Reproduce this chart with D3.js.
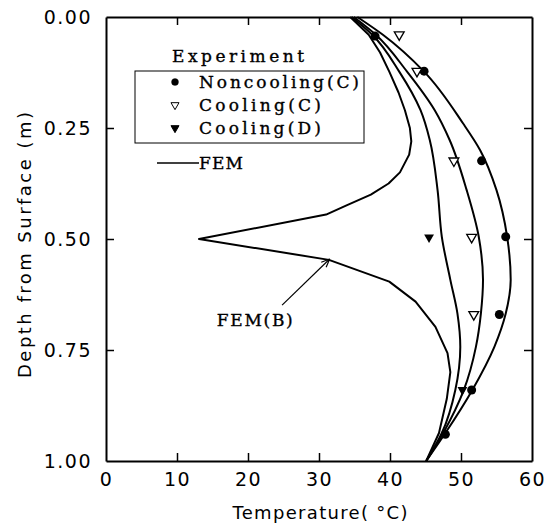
<!DOCTYPE html>
<html>
<head>
<meta charset="utf-8">
<script src="https://cdn.jsdelivr.net/npm/d3@7"></script>
<style>
  body { margin: 0; background: #fff; }
  svg { display: block; }
</style>
</head>
<body>
<div id="chart"></div>
<script>
// FEM curves: [depth (m), temperature (C)]
const femB = [
  [0, 34.4], [0.04, 37.0], [0.08, 38.6], [0.123, 39.9], [0.17, 41.2], [0.21, 42.1],
  [0.25, 42.8], [0.28, 43.0], [0.31, 42.7], [0.35, 41.4], [0.375, 39.8], [0.40, 37.3],
  [0.425, 33.8], [0.445, 31.0], [0.5, 13.1],
  [0.547, 31.4], [0.596, 39.9], [0.641, 43.6], [0.698, 46.4], [0.757, 48.1],
  [0.80, 48.5], [0.86, 48.0], [0.937, 46.9], [1.0, 45.1]
];
const femD = [
  [0, 34.6], [0.04, 37.5], [0.123, 41.3], [0.21, 44.3], [0.277, 45.6], [0.39, 46.7],
  [0.495, 47.3], [0.592, 48.5], [0.668, 49.5], [0.743, 49.9], [0.84, 49.2],
  [0.937, 47.3], [1.0, 45.1]
];
const femC = [
  [0, 34.9], [0.04, 38.0], [0.123, 42.4], [0.21, 46.3], [0.277, 48.4], [0.39, 50.8],
  [0.495, 52.5], [0.592, 53.1], [0.668, 52.8], [0.743, 52.1], [0.84, 50.4],
  [0.937, 47.5], [1.0, 45.1]
];
const femN = [
  [0, 35.4], [0.04, 39.0], [0.123, 44.8], [0.24, 50.3], [0.30, 52.7], [0.39, 55.0],
  [0.495, 56.5], [0.592, 57.0], [0.668, 56.3], [0.743, 54.7], [0.84, 51.6],
  [0.937, 47.8], [1.0, 45.1]
];

// Experiment points: [depth, temperature]
const noncoolingC = [[0.043, 37.9], [0.122, 44.8], [0.324, 52.9], [0.495, 56.3], [0.67, 55.4], [0.84, 51.5], [0.94, 47.8]];
const coolingC = [[0.04, 41.3], [0.122, 43.8], [0.324, 49.0], [0.496, 51.5], [0.67, 51.8]];
const coolingD = [[0.496, 45.5], [0.84, 50.2]];

const xTicks = [0, 10, 20, 30, 40, 50, 60];
const yTicks = [0, 0.25, 0.5, 0.75, 1.0];

const width = 558, height = 523;
const x = d3.scaleLinear().domain([0, 60]).range([106, 532]);
const y = d3.scaleLinear().domain([0, 1]).range([17, 461]);

const svg = d3.select("#chart").append("svg")
  .attr("width", width)
  .attr("height", height);

const tickFont = "'DejaVu Sans', sans-serif";
const serif = "'DejaVu Serif', serif";

// curves
const smooth = d3.line().x(d => x(d[1])).y(d => y(d[0])).curve(d3.curveMonotoneY);
const straight = d3.line().x(d => x(d[1])).y(d => y(d[0]));

[femD, femC, femN].forEach(c => {
  svg.append("path").datum(c)
    .attr("d", smooth)
    .attr("fill", "none")
    .attr("stroke", "#000")
    .attr("stroke-width", 2);
});
svg.append("path").datum(femB)
  .attr("d", straight)
  .attr("fill", "none")
  .attr("stroke", "#000")
  .attr("stroke-width", 2)
  .attr("stroke-linejoin", "round");

// markers
const triDown = d3.symbol().type(d3.symbolTriangle).size(42);
svg.append("g").selectAll("circle")
  .data(noncoolingC).join("circle")
  .attr("cx", d => x(d[1])).attr("cy", d => y(d[0]))
  .attr("r", 4.5).attr("fill", "#000");

svg.append("g").selectAll("path")
  .data(coolingC).join("path")
  .attr("d", triDown)
  .attr("transform", d => `translate(${x(d[1])},${y(d[0])}) rotate(180)`)
  .attr("fill", "#fff").attr("stroke", "#000").attr("stroke-width", 1.3);

svg.append("g").selectAll("path")
  .data(coolingD).join("path")
  .attr("d", triDown)
  .attr("transform", d => `translate(${x(d[1])},${y(d[0])}) rotate(180)`)
  .attr("fill", "#000");

// axes (ticks point inward)
function styleAxis(g) {
  g.select(".domain").attr("stroke-width", 2);
  g.selectAll(".tick line").attr("stroke-width", 1.5);
  g.selectAll("text")
    .style("font-family", tickFont)
    .style("font-size", "19px")
    .style("letter-spacing", "1.5px")
    .attr("fill", "#000");
}

svg.append("g")
  .attr("transform", `translate(0,${y(1)})`)
  .call(d3.axisBottom(x).tickValues(xTicks).tickSizeInner(-8).tickSizeOuter(0).tickPadding(12))
  .call(styleAxis)
  .selectAll(".tick line").filter(d => d === 0 || d === 60).remove();

svg.append("g")
  .attr("transform", `translate(0,${y(0)})`)
  .call(d3.axisTop(x).tickValues(xTicks.slice(1, -1)).tickSizeInner(-8).tickSizeOuter(0).tickFormat(""))
  .call(styleAxis);

svg.append("g")
  .attr("transform", `translate(${x(0)},0)`)
  .call(d3.axisLeft(y).tickValues(yTicks).tickSizeInner(-8).tickSizeOuter(0).tickPadding(14).tickFormat(d3.format(".2f")))
  .call(styleAxis)
  .selectAll(".tick line").filter(d => d === 0 || d === 1).remove();

svg.append("g")
  .attr("transform", `translate(${x(60)},0)`)
  .call(d3.axisRight(y).tickValues(yTicks.slice(1, -1)).tickSizeInner(-8).tickSizeOuter(0).tickFormat(""))
  .call(styleAxis);

// axis titles
svg.append("text")
  .attr("x", 320).attr("y", 519)
  .attr("text-anchor", "middle")
  .attr("textLength", 175).attr("lengthAdjust", "spacing")
  .style("font-family", tickFont).style("font-size", "18px")
  .text("Temperature( °C)");

svg.append("text")
  .attr("transform", "translate(31,245) rotate(-90)")
  .attr("text-anchor", "middle")
  .attr("textLength", 266).attr("lengthAdjust", "spacing")
  .style("font-family", tickFont).style("font-size", "18px")
  .text("Depth from Surface (m)");

// legend
const legend = svg.append("g")
  .style("font-family", serif).style("font-size", "17px")
  .attr("stroke", "#000").attr("stroke-width", 0.35);
legend.append("text").attr("x", 172).attr("y", 62)
  .attr("textLength", 132).attr("lengthAdjust", "spacing")
  .text("Experiment");
legend.append("rect")
  .attr("x", 135).attr("y", 71).attr("width", 229).attr("height", 72)
  .attr("fill", "none").attr("stroke", "#000").attr("stroke-width", 1);

const rows = [
  { label: "Noncooling(C)", y: 82, len: 160 },
  { label: "Cooling(C)", y: 105, len: 122 },
  { label: "Cooling(D)", y: 128, len: 122 }
];
rows.forEach((r, i) => {
  if (i === 0) {
    legend.append("circle").attr("cx", 175).attr("cy", r.y).attr("r", 3.5).attr("fill", "#000");
  } else {
    legend.append("path")
      .attr("d", d3.symbol().type(d3.symbolTriangle).size(28))
      .attr("transform", `translate(175,${r.y}) rotate(180)`)
      .attr("fill", i === 1 ? "#fff" : "#000")
      .attr("stroke", "#000").attr("stroke-width", 1);
  }
  legend.append("text").attr("x", 199).attr("y", r.y + 6)
    .attr("textLength", r.len).attr("lengthAdjust", "spacing")
    .text(r.label);
});
legend.append("line")
  .attr("x1", 157).attr("x2", 199).attr("y1", 163).attr("y2", 163)
  .attr("stroke", "#000").attr("stroke-width", 1.5);
legend.append("text").attr("x", 199).attr("y", 169)
  .attr("textLength", 44).attr("lengthAdjust", "spacing")
  .text("FEM");

// FEM(B) annotation with arrow (data units)
const tip = [0.545, 31.5], tail = [0.649, 24.8];
svg.append("line")
  .attr("x1", x(tail[1])).attr("y1", y(tail[0]))
  .attr("x2", x(tip[1])).attr("y2", y(tip[0]))
  .attr("stroke", "#000").attr("stroke-width", 1.2);
const ang = Math.atan2(y(tip[0]) - y(tail[0]), x(tip[1]) - x(tail[1]));
[-0.4, 0.4].forEach(a => {
  svg.append("line")
    .attr("x1", x(tip[1])).attr("y1", y(tip[0]))
    .attr("x2", x(tip[1]) - 9 * Math.cos(ang + a))
    .attr("y2", y(tip[0]) - 9 * Math.sin(ang + a))
    .attr("stroke", "#000").attr("stroke-width", 1.2);
});
svg.append("text")
  .attr("x", x(15.6)).attr("y", y(0.682) + 6)
  .attr("textLength", 76).attr("lengthAdjust", "spacing")
  .attr("stroke", "#000").attr("stroke-width", 0.35)
  .style("font-family", serif).style("font-size", "17px")
  .text("FEM(B)");
</script>
</body>
</html>
